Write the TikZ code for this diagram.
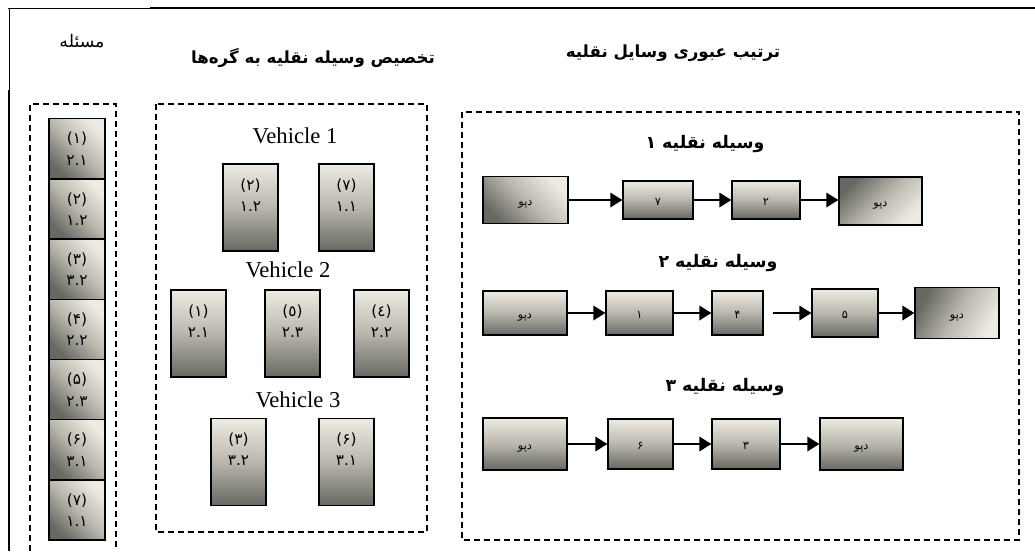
\documentclass[tikz,border=0pt]{standalone}
\usepackage{fontspec}
\setmainfont{Liberation Serif}
\newfontfamily\fa[Script=Arabic]{DejaVu Sans}
\TeXXeTstate=1
\usetikzlibrary{arrows.meta}
\definecolor{lite}{RGB}{238,236,226}
\definecolor{midg}{RGB}{184,182,173}
\definecolor{dark}{RGB}{104,103,97}
\tikzset{
  frame/.style={draw=black, line width=1.1pt, dash pattern=on 4.5pt off 3pt},
  sz/.style 2 args={minimum width=#1*0.75pt, minimum height=#2*0.75pt},
  gbox/.style={draw=black, line width=1pt, inner sep=0pt, top color=lite, bottom color=dark, middle color=midg},
  dbox/.style={gbox, shading angle=#1},
  lbl/.style={font=\fa\fontsize{11.5}{16}\selectfont, align=center, inner sep=0pt},
  rlbl/.style={font=\fa\fontsize{8.5}{10}\selectfont, inner sep=0pt, text height=7.5pt, text depth=0pt},
  veh/.style={font=\fontsize{17}{20}\selectfont, inner sep=0pt},
  ttl/.style={font=\fa\bfseries\fontsize{12.5}{15}\selectfont, inner sep=0pt},
  sub/.style={font=\fa\bfseries\fontsize{13}{15}\selectfont, inner sep=0pt},
  arr/.style={line width=1pt, -{Triangle[length=9pt,width=11pt]}}
}
\begin{document}
\begin{tikzpicture}[x=0.75pt,y=-0.75pt]
\useasboundingbox (0,0) rectangle (1035,551);
% outer frame
\draw[line width=0.6pt] (8,8) -- (150,8);
\draw[line width=1.5pt] (150,8) -- (1035,8);
\draw[line width=0.6pt] (9,8) -- (9,90);
\draw[line width=1.1pt] (9,90) -- (9,551);
% dashed panels
\draw[frame] (30,551) -- (30,104) -- (116,104) -- (116,551);
\draw[frame] (156,104) rectangle (427,532);
\draw[frame] (462,112) rectangle (1019,540);
% headings
\node[font=\fa\fontsize{13}{15}\selectfont, inner sep=0pt] (hq) at (82,41) {\beginR مسئله\endR};
\node[ttl] (hm) at (313,58) {\beginR تخصیص وسیله نقلیه به گره‌ها\endR};
\node[ttl] (hr) at (673,53) {\beginR ترتیب عبوری وسایل نقلیه\endR};
% left column
\node[dbox=-45, sz={56}{60.2}, lbl] (c1) at (77,148.8) {(۱)\\۲.۱};
\node[dbox=-45, sz={56}{60.2}, lbl] (c2) at (77,209.0) {(۲)\\۱.۲};
\node[dbox=-45, sz={56}{60.2}, lbl] (c3) at (77,269.2) {(۳)\\۳.۲};
\node[dbox=-45, sz={56}{60.2}, lbl] (c4) at (77,329.4) {(۴)\\۲.۲};
\node[dbox=-45, sz={56}{60.2}, lbl] (c5) at (77,389.6) {(۵)\\۲.۳};
\node[dbox=-45, sz={56}{60.2}, lbl] (c6) at (77,449.8) {(۶)\\۳.۱};
\node[dbox=-45, sz={56}{60.2}, lbl] (c7) at (77,510.0) {(۷)\\۱.۱};
% middle panel
\node[veh] (v1) at (295,136) {Vehicle 1};
\node[gbox, sz={55}{87}] (m2) at (250.5,207.5) {};
\node[gbox, sz={55}{87}] (m7) at (346.5,207.5) {};
\node[lbl] (m2t) at (250.5,195) {(۲)\\۱.۲};
\node[lbl] (m7t) at (346.5,195) {(۷)\\۱.۱};
\node[veh] (v2) at (288,270) {Vehicle 2};
\node[gbox, sz={55}{87}] (m1) at (198.5,333.5) {};
\node[gbox, sz={55}{87}] (m5) at (292.5,333.5) {};
\node[gbox, sz={55}{87}] (m4) at (381.5,333.5) {};
\node[lbl] (m1t) at (198.5,321) {(۱)\\۲.۱};
\node[lbl] (m5t) at (292.5,321) {(٥)\\۲.۳};
\node[lbl] (m4t) at (381.5,321) {(٤)\\۲.۲};
\node[veh] (v3) at (298,400) {Vehicle 3};
\node[gbox, sz={55}{87}] (m3) at (238.5,462) {};
\node[gbox, sz={55}{87}] (m6) at (346.5,462) {};
\node[lbl] (m3t) at (238.5,449.5) {(۳)\\۳.۲};
\node[lbl] (m6t) at (346.5,449.5) {(۶)\\۳.۱};
% right panel, vehicle 1
\node[sub] (s1) at (705,144) {\beginR وسیله نقلیه ۱\endR};
\node[dbox=-45, sz={85}{47}, rlbl] (a1) at (525.5,200) {\beginR دپو\endR};
\node[gbox, sz={70}{38}, rlbl] (a2) at (658,200) {۷};
\node[gbox, sz={68}{38}, rlbl] (a3) at (766,200) {۲};
\node[dbox=-135, sz={83}{48}, rlbl] (a4) at (880.5,201) {\beginR دپو\endR};
\draw[arr] (a1.east) -- (a1.east -| a2.west);
\draw[arr] (a2.east) -- (a2.east -| a3.west);
\draw[arr] (a3.east) -- (a3.east -| a4.west);
% vehicle 2
\node[sub] (s2) at (718,263) {\beginR وسیله نقلیه ۲\endR};
\node[gbox, sz={84}{44}, rlbl] (b1) at (525,313) {\beginR دپو\endR};
\node[gbox, sz={67}{44}, rlbl] (b2) at (639.5,313) {۱};
\node[gbox, sz={51}{44}, rlbl] (b3) at (737.5,313) {۴};
\node[gbox, sz={66}{48}, rlbl] (b4) at (845,313) {۵};
\node[dbox=-120, sz={84}{51}, rlbl] (b5) at (957,313) {\beginR دپو\endR};
\draw[arr] (b1.east) -- (b1.east -| b2.west);
\draw[arr] (b2.east) -- (b2.east -| b3.west);
\draw[arr, shorten <=9*0.75pt] (b3.east) -- (b3.east -| b4.west);
\draw[arr] (b4.east) -- (b4.east -| b5.west);
% vehicle 3
\node[sub] (s3) at (725,387) {\beginR وسیله نقلیه ۳\endR};
\node[gbox, sz={84}{52}, rlbl] (d1) at (525,444) {\beginR دپو\endR};
\node[gbox, sz={65}{50}, rlbl] (d2) at (640.5,444) {۶};
\node[gbox, sz={68}{50}, rlbl] (d3) at (746,444) {۳};
\node[gbox, sz={83}{52}, rlbl] (d4) at (861.5,444) {\beginR دپو\endR};
\draw[arr] (d1.east) -- (d1.east -| d2.west);
\draw[arr] (d2.east) -- (d2.east -| d3.west);
\draw[arr] (d3.east) -- (d3.east -| d4.west);
\end{tikzpicture}
\end{document}
